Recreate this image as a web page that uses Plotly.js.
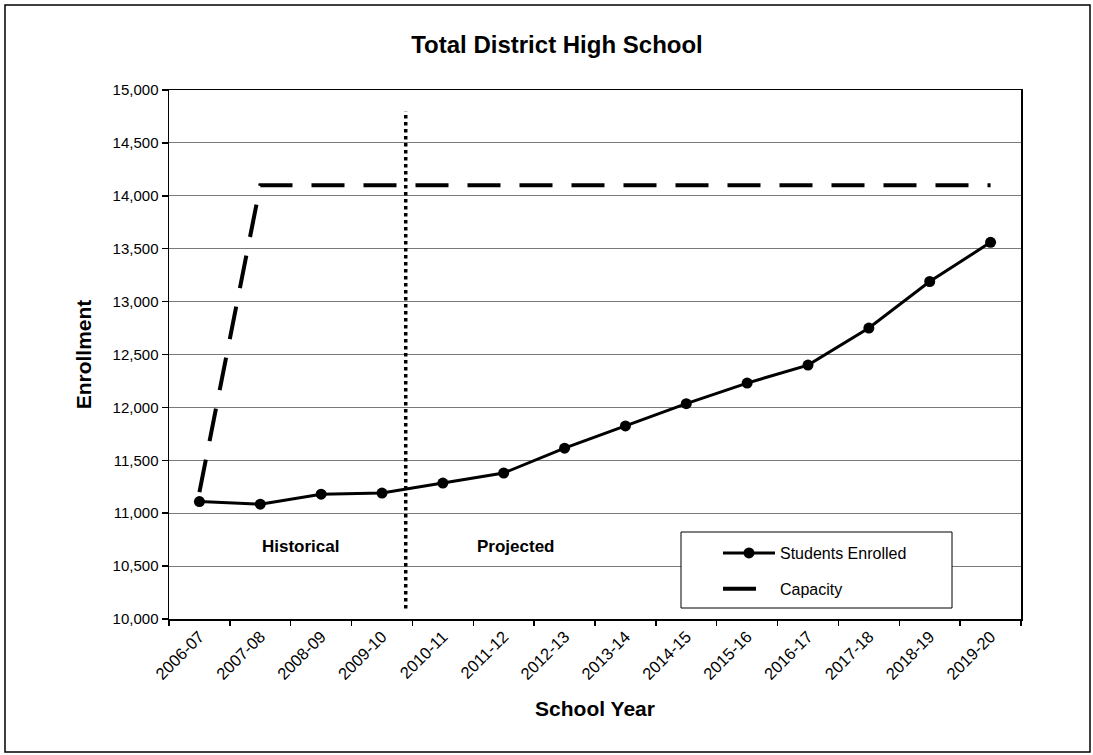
<!DOCTYPE html>
<html>
<head>
<meta charset="utf-8">
<script src="https://cdn.plot.ly/plotly-3.0.1.min.js"></script>
<style>
  html, body { margin: 0; padding: 0; background: #ffffff; }
  #chart { width: 1093px; height: 755px; }
</style>
</head>
<body>
<div id="chart"></div>
<script>
// ---- Data ----
const schoolYears = ["2006-07","2007-08","2008-09","2009-10","2010-11","2011-12","2012-13",
                     "2013-14","2014-15","2015-16","2016-17","2017-18","2018-19","2019-20"];
const studentsEnrolled = [11110, 11085, 11180, 11190, 11285, 11380, 11615,
                          11825, 12035, 12230, 12400, 12750, 13190, 13560];
const capacity = [11200, 14100, 14100, 14100, 14100, 14100, 14100,
                  14100, 14100, 14100, 14100, 14100, 14100, 14100];
const yTickVals = [10000, 10500, 11000, 11500, 12000, 12500, 13000, 13500, 14000, 14500, 15000];
const dividerPos = 3.39;          // between 2009-10 and 2010-11 (category index)
const dividerRange = [10100, 14800];
const periodLabels = ["Historical", "Projected"];
const periodLabelPos = [1.66, 5.2];
const periodLabelY = 10690;

const FONT = "Arial, 'Liberation Sans', Helvetica, sans-serif";

const traces = [
  {
    x: schoolYears, y: studentsEnrolled, name: "Students Enrolled",
    type: "scatter", mode: "lines+markers",
    line: { color: "#000000", width: 3 },
    marker: { color: "#000000", size: 11, symbol: "circle" },
    legendgroup: "a", cliponaxis: false
  },
  {
    x: schoolYears, y: capacity, name: "Capacity",
    type: "scatter", mode: "lines",
    line: { color: "#000000", width: 4, dash: "33px,19px" },
    legendgroup: "b"
  }
];

const layout = {
  width: 1093, height: 755,
  margin: { l: 169, r: 72, t: 90, b: 136 },
  paper_bgcolor: "#ffffff", plot_bgcolor: "#ffffff",
  font: { family: FONT, color: "#000000", size: 15 },
  title: {
    text: "Total District High School",
    font: { family: FONT, size: 24, weight: 700, color: "#000000" },
    x: 557 / 1093, xref: "container", xanchor: "center",
    y: 1 - 45 / 755, yref: "container", yanchor: "middle"
  },
  xaxis: {
    type: "category",
    categoryorder: "array", categoryarray: schoolYears,
    range: [-0.5, 13.5],
    tickson: "boundaries",
    ticks: "outside", ticklen: 5, tickwidth: 1.5, tickcolor: "#000000",
    tickangle: -45,
    tickfont: { family: FONT, size: 16.5, color: "#000000" },
    showline: true, linecolor: "#000000", linewidth: 1.5, mirror: true,
    showgrid: false, zeroline: false,
    title: { text: "School Year", font: { family: FONT, size: 21, weight: 700 }, standoff: 19 }
  },
  yaxis: {
    range: [10000, 15000],
    tickvals: yTickVals, tickformat: ",d",
    ticks: "outside", ticklen: 6, tickwidth: 1.5, tickcolor: "#000000",
    tickfont: { family: FONT, size: 15, color: "#000000" },
    showline: true, linecolor: "#000000", linewidth: 1.5, mirror: true,
    showgrid: true, gridcolor: "#7a7a7a", gridwidth: 1,
    zeroline: false,
    title: { text: "Enrollment", font: { family: FONT, size: 21, weight: 700 }, standoff: 15 }
  },
  showlegend: true,
  legend: {
    x: (718 - 169) / 852, xanchor: "left",
    y: (619 - 536) / 529, yanchor: "top",
    bgcolor: "rgba(0,0,0,0)", borderwidth: 0,
    font: { family: FONT, size: 16, color: "#000000" },
    traceorder: "grouped", tracegroupgap: 12,
    itemwidth: 52
  },
  shapes: [
    // legend box
    { type: "rect", xref: "paper", yref: "paper",
      x0: (681 - 169) / 852, x1: (952 - 169) / 852,
      y0: (619 - 608) / 529, y1: (619 - 532) / 529,
      line: { color: "#000000", width: 1 }, fillcolor: "#ffffff", layer: "above" },
    // historical / projected divider
    { type: "line", xref: "x", yref: "y",
      x0: dividerPos, x1: dividerPos, y0: dividerRange[0], y1: dividerRange[1],
      line: { color: "#000000", width: 3.5, dash: "dot" }, layer: "above" },
    // outer chart border
    { type: "rect", xref: "paper", yref: "paper",
      x0: (5 - 169) / 852, x1: (1090 - 169) / 852,
      y0: (619 - 752) / 529, y1: (619 - 5) / 529,
      line: { color: "#000000", width: 1.5 }, fillcolor: "rgba(0,0,0,0)", layer: "below" }
  ],
  annotations: periodLabels.map((t, i) => ({
    text: t, x: periodLabelPos[i], y: periodLabelY, xref: "x", yref: "y",
    showarrow: false, font: { family: FONT, size: 17, weight: 700, color: "#000000" },
    xanchor: "center", yanchor: "middle"
  }))
};

Plotly.newPlot("chart", traces, layout, { displayModeBar: false, staticPlot: true });
</script>
</body>
</html>
